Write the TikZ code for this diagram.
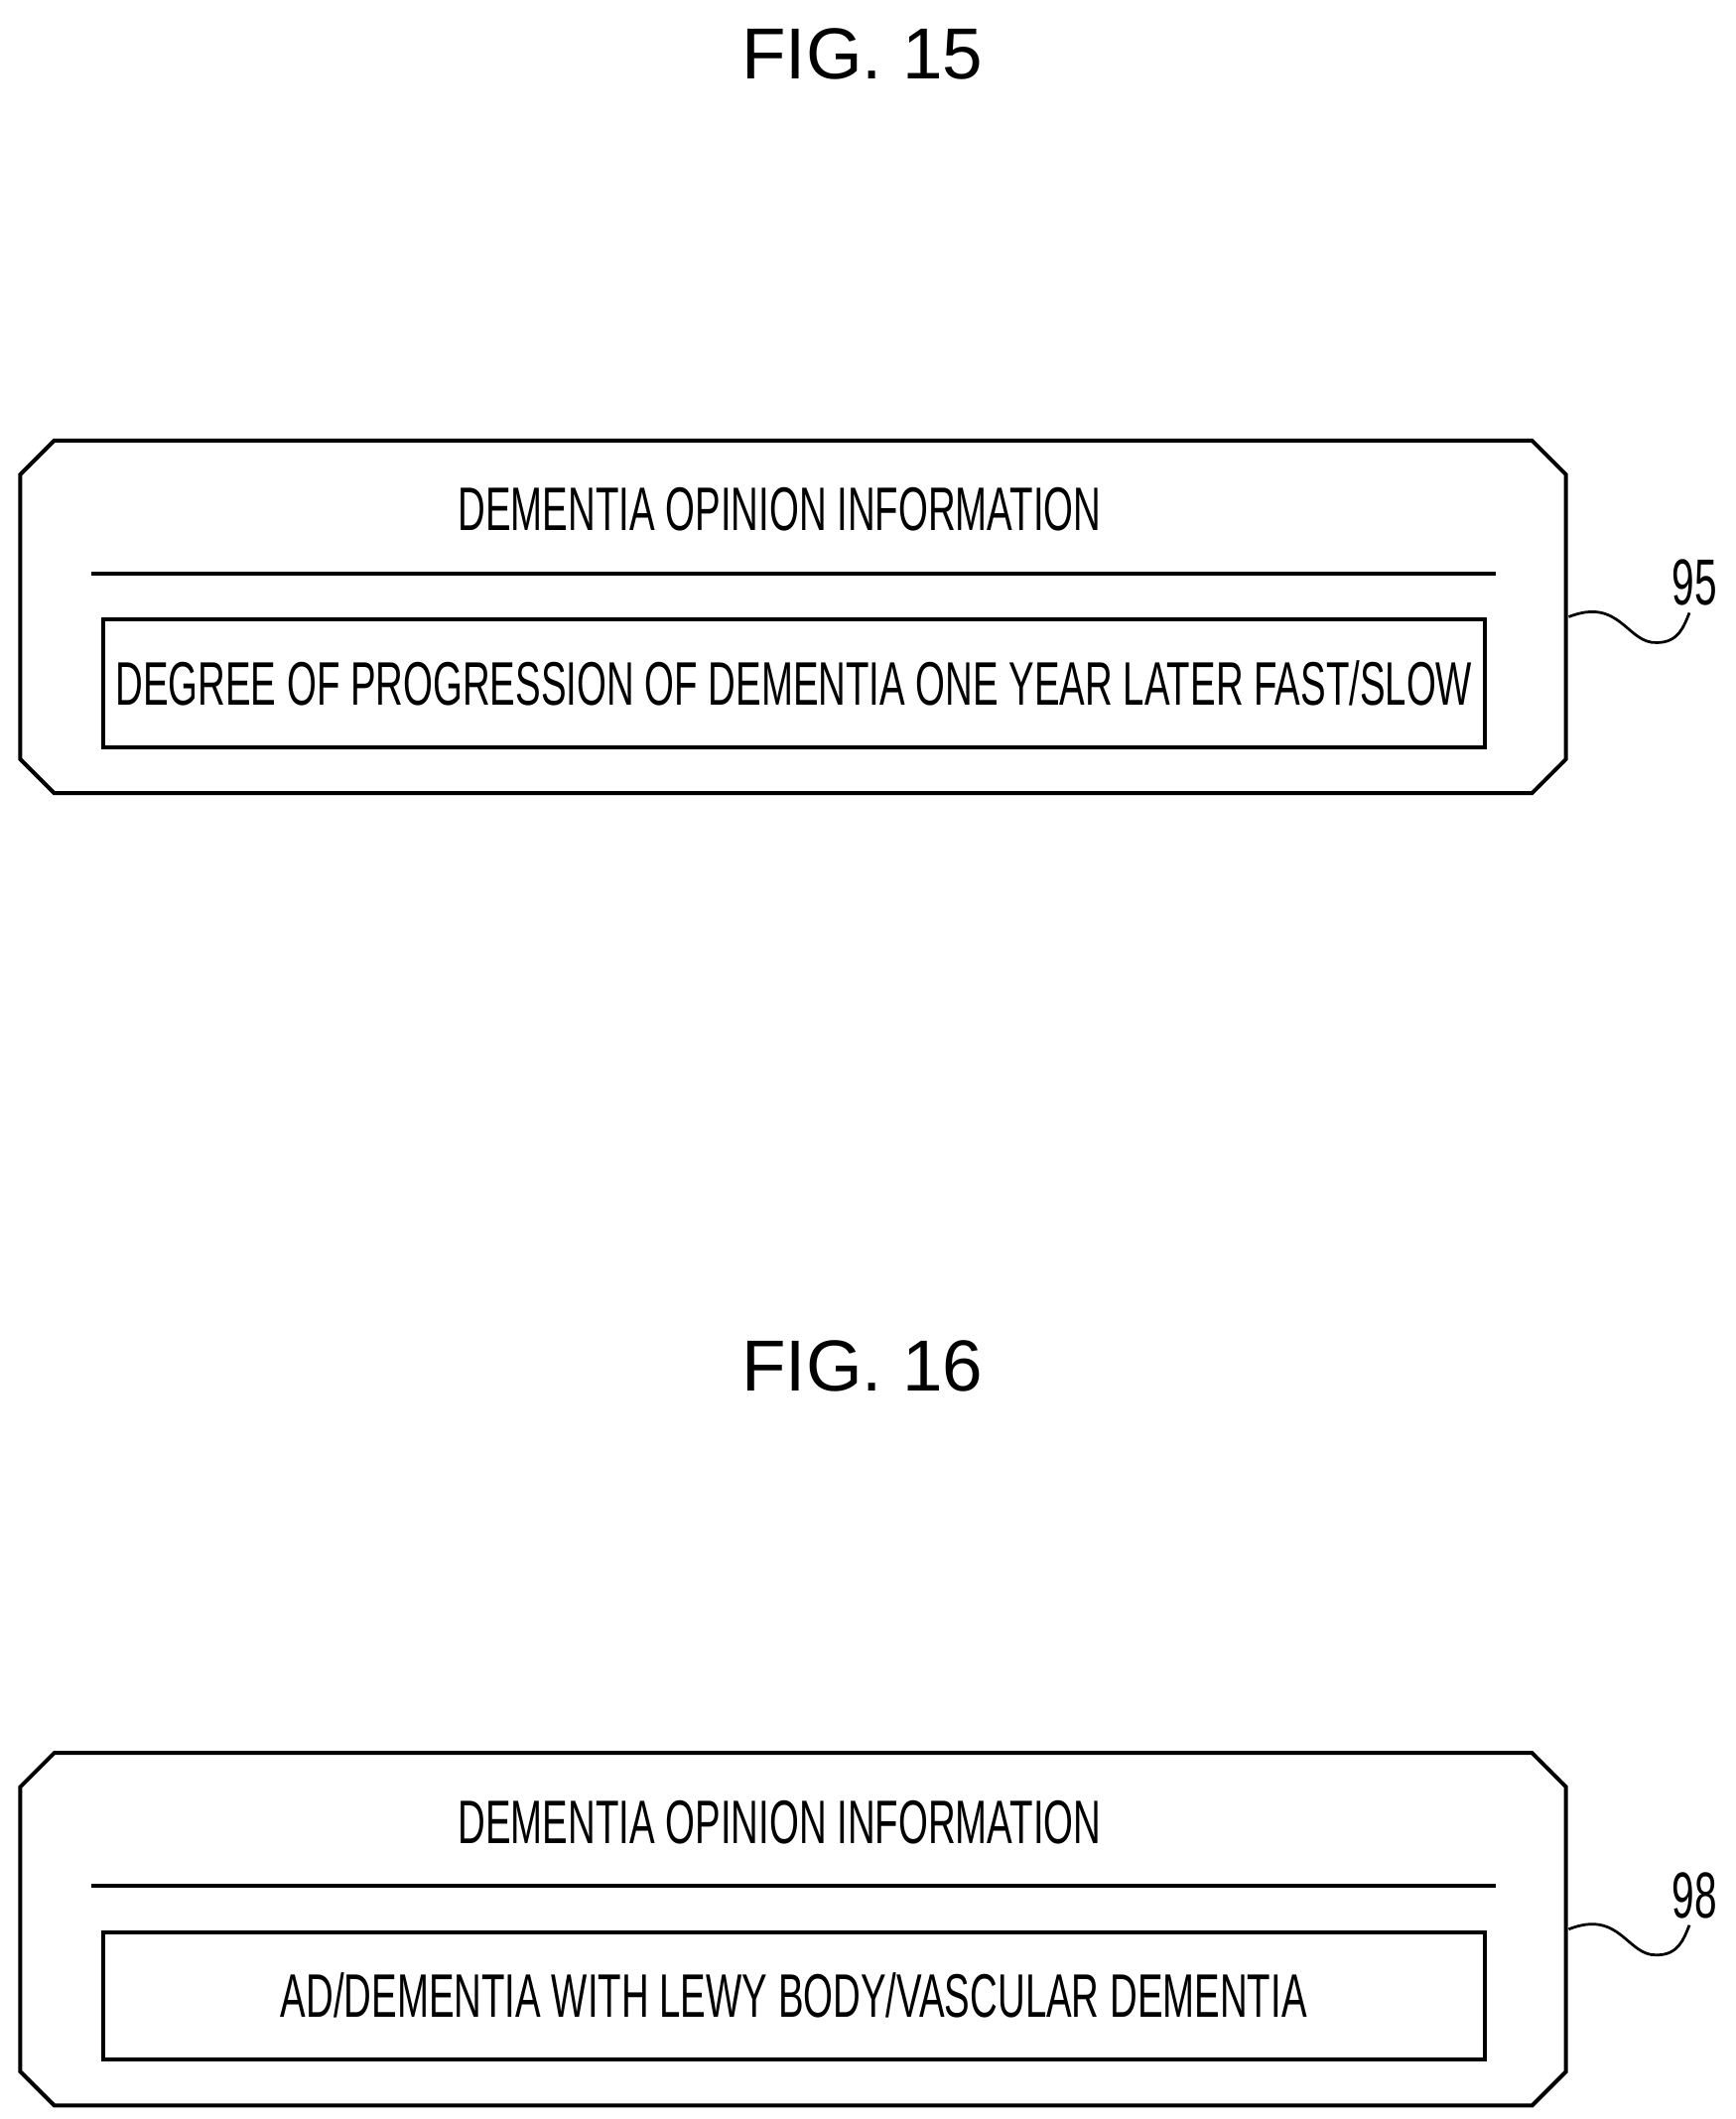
\documentclass[tikz,border=0pt]{standalone}
\usepackage{fontspec}
\setmainfont{Liberation Sans}
\newfontfamily\narrowf[FakeStretch=0.62]{Liberation Sans}
\begin{document}
\begin{tikzpicture}[x=0.75pt,y=-0.75pt,
  lw/.style={line width=2.2pt},
  fig/.style={font=\fontsize{40}{44}\selectfont},
  txt/.style={font=\narrowf\fontsize{34}{38}\selectfont},
  num/.style={font=\narrowf\fontsize{36}{40}\selectfont}]
\useasboundingbox (0,0) rectangle (1280,1563);
\foreach \t/\b/\f/\lab/\body/\n in {0/15/a/95/{DEGREE OF PROGRESSION OF DEMENTIA ONE YEAR LATER FAST/SLOW}/15, 968/16/b/98/{AD/DEMENTIA WITH LEWY BODY/VASCULAR DEMENTIA}/16}{
  \node[fig] (title\f) at (636,40+\t) {FIG. \n};
  \draw[lw] (40,325+\t) -- (1130,325+\t) -- (1155,350+\t) -- (1155,560+\t) -- (1130,585+\t) -- (40,585+\t) -- (15,560+\t) -- (15,350+\t) -- cycle;
  \node[txt] (head\f) at (575,376+\t) {DEMENTIA OPINION INFORMATION};
  \coordinate (l1\f) at (67,423+\t); \coordinate (l2\f) at (1103,423+\t);
  \draw[lw] (l1\f) -- (l2\f);
  \node[lw,draw,minimum width=1019*0.75pt,minimum height=94*0.75pt,txt] (inner\f) at (585.5,504+\t) {\body};
  \node[num] (n\f) at (1250,430+\t) {\lab};
  \coordinate (s\f) at (1157,455+\t);
  \draw[line width=1.5pt] (s\f) .. controls (1195,440+\t) and (1200,475+\t) .. (1222,474+\t) .. controls (1238,474+\t) and (1242,462+\t) .. (1246,452+\t);
}
\end{tikzpicture}
\end{document}
